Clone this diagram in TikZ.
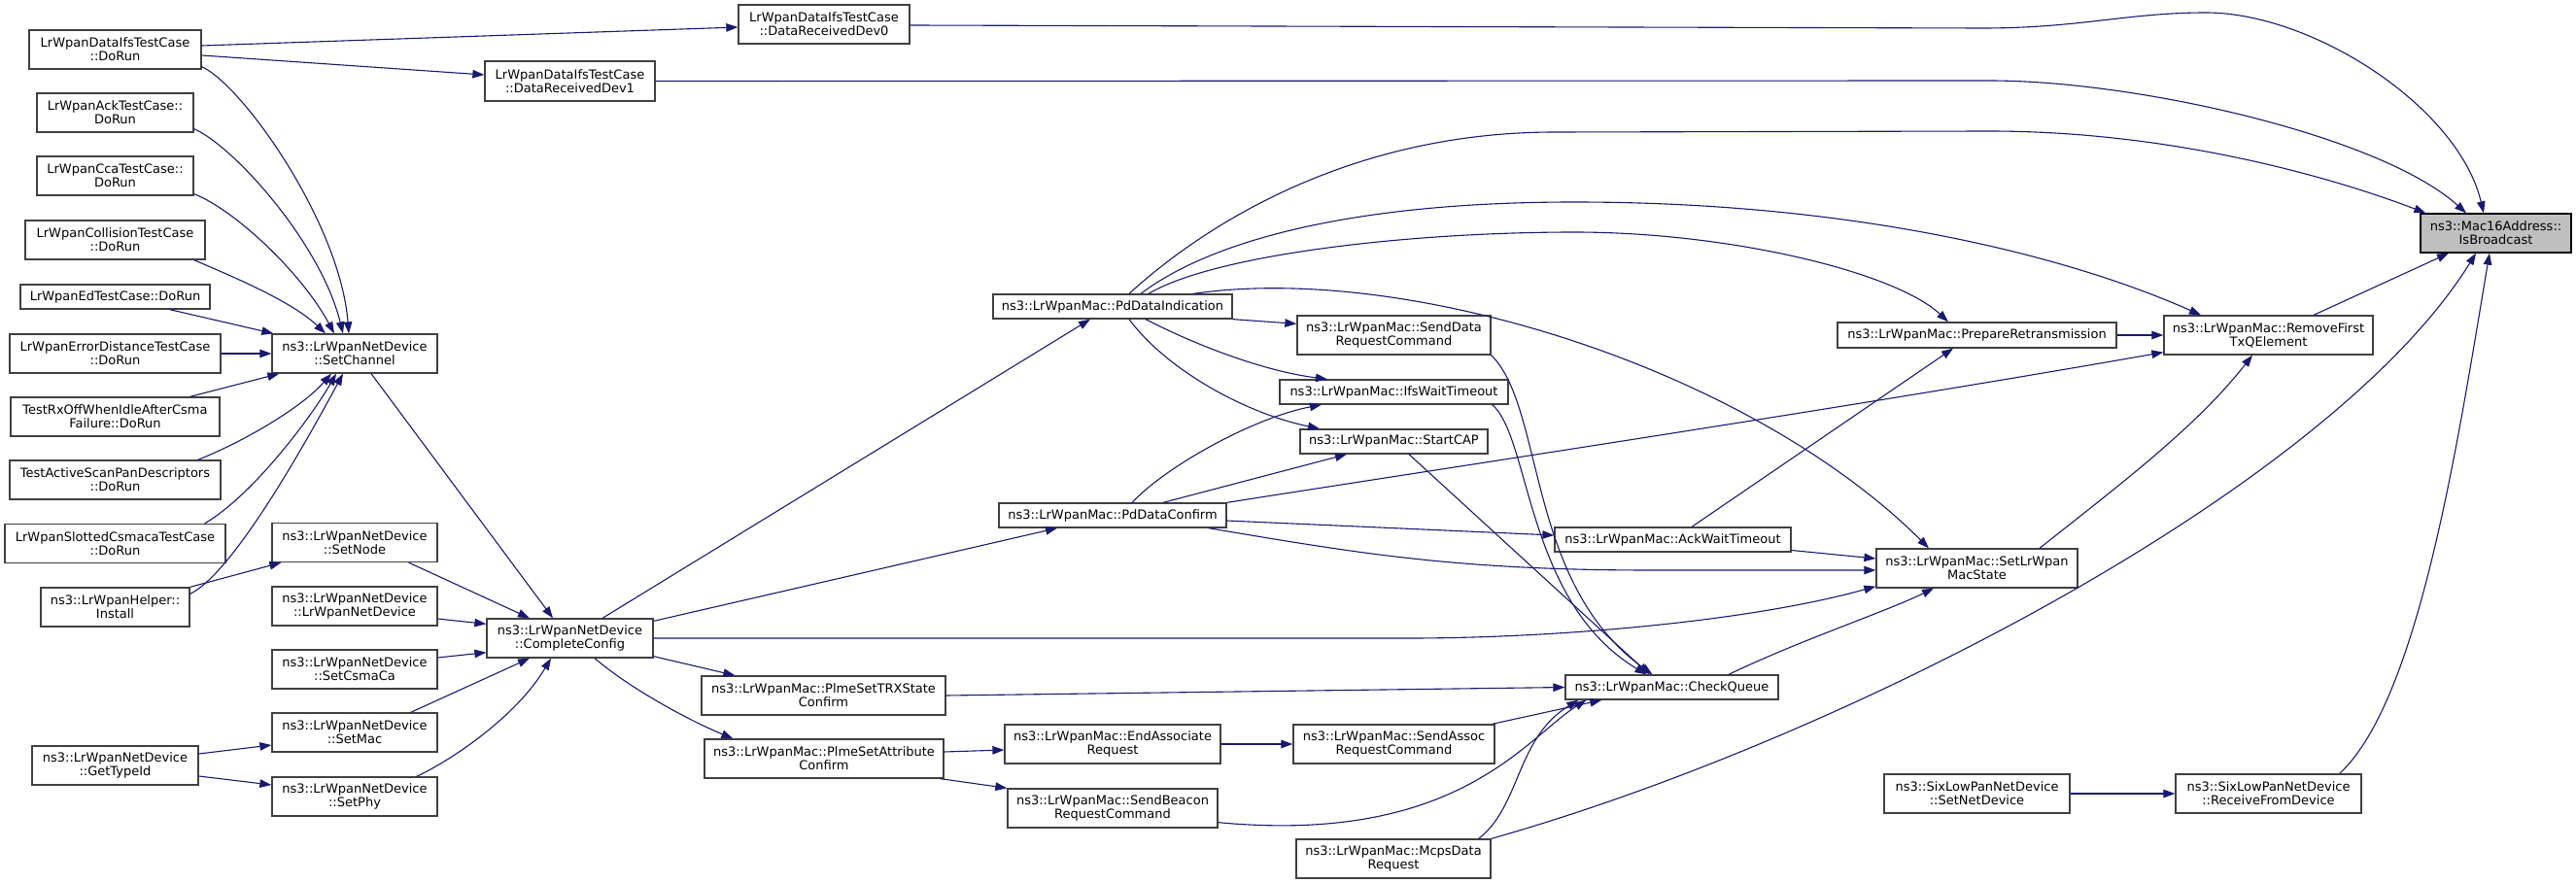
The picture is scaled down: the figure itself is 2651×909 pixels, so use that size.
\documentclass[tikz,border=0pt]{standalone}
\usepackage{fontspec}
\setmainfont{DejaVu Sans}
\usetikzlibrary{arrows.meta}
\definecolor{edgec}{HTML}{191970}
\definecolor{boxc}{HTML}{404040}
\definecolor{rootfill}{HTML}{BFBFBF}
\begin{document}
\begin{tikzpicture}[x=1pt,y=-1pt,
  fn/.style={draw=boxc, line width=1.3pt, fill=white, inner sep=0pt, align=center,
    font=\fontsize{13}{14}\selectfont, text=black},
  ed/.style={draw=edgec, line width=1.1pt, -{Triangle[length=12pt,width=8.5pt]}}
]
\useasboundingbox (0,0) rectangle (2651,909);
% column 1
\node[fn, minimum width=177pt, minimum height=40pt] (dorun) at (118.5,51) {LrWpanDataIfsTestCase\\::DoRun};
\node[fn, minimum width=161pt, minimum height=40pt] (ack) at (118.5,116) {LrWpanAckTestCase::\\DoRun};
\node[fn, minimum width=161pt, minimum height=40pt] (cca) at (118.5,181) {LrWpanCcaTestCase::\\DoRun};
\node[fn, minimum width=185pt, minimum height=40pt] (coll) at (118.5,247) {LrWpanCollisionTestCase\\::DoRun};
\node[fn, minimum width=195pt, minimum height=25pt] (ed) at (118.5,305.5) {LrWpanEdTestCase::DoRun};
\node[fn, minimum width=217pt, minimum height=40pt] (errd) at (118.5,364) {LrWpanErrorDistanceTestCase\\::DoRun};
\node[fn, minimum width=215pt, minimum height=40pt] (rxoff) at (118.5,429) {TestRxOffWhenIdleAfterCsma\\Failure::DoRun};
\node[fn, minimum width=217pt, minimum height=40pt] (scan) at (118.5,494) {TestActiveScanPanDescriptors\\::DoRun};
\node[fn, minimum width=227pt, minimum height=40pt] (slot) at (118.5,559.5) {LrWpanSlottedCsmacaTestCase\\::DoRun};
\node[fn, minimum width=153pt, minimum height=40pt] (install) at (118.5,625) {ns3::LrWpanHelper::\\Install};
\node[fn, minimum width=171pt, minimum height=40pt] (gettype) at (118.5,788) {ns3::LrWpanNetDevice\\::GetTypeId};
% column 2
\node[fn, minimum width=170pt, minimum height=40pt] (setch) at (365,364) {ns3::LrWpanNetDevice\\::SetChannel};
\node[fn, minimum width=170pt, minimum height=40pt] (setnode) at (365,558.5) {ns3::LrWpanNetDevice\\::SetNode};
\node[fn, minimum width=170pt, minimum height=40pt] (ctor) at (365,624) {ns3::LrWpanNetDevice\\::LrWpanNetDevice};
\node[fn, minimum width=170pt, minimum height=40pt] (csma) at (365,689) {ns3::LrWpanNetDevice\\::SetCsmaCa};
\node[fn, minimum width=170pt, minimum height=40pt] (setmac) at (365,754) {ns3::LrWpanNetDevice\\::SetMac};
\node[fn, minimum width=170pt, minimum height=40pt] (setphy) at (365,820) {ns3::LrWpanNetDevice\\::SetPhy};
% column 3
\node[fn, minimum width=171pt, minimum height=40pt] (cc) at (586.5,657) {ns3::LrWpanNetDevice\\::CompleteConfig};
\node[fn, minimum width=175pt, minimum height=41pt] (dev1) at (586.5,83.5) {LrWpanDataIfsTestCase\\::DataReceivedDev1};
% column 4
\node[fn, minimum width=176pt, minimum height=40pt] (dev0) at (848,25) {LrWpanDataIfsTestCase\\::DataReceivedDev0};
\node[fn, minimum width=251pt, minimum height=40pt] (trx) at (847.5,716) {ns3::LrWpanMac::PlmeSetTRXState\\Confirm};
\node[fn, minimum width=246pt, minimum height=40pt] (attr) at (848,781) {ns3::LrWpanMac::PlmeSetAttribute\\Confirm};
% column 5
\node[fn, minimum width=246pt, minimum height=25pt] (pdind) at (1145,315.5) {ns3::LrWpanMac::PdDataIndication};
\node[fn, minimum width=234pt, minimum height=25pt] (pdconf) at (1145,530.5) {ns3::LrWpanMac::PdDataConfirm};
\node[fn, minimum width=222pt, minimum height=40pt] (endassoc) at (1145,766) {ns3::LrWpanMac::EndAssociate\\Request};
\node[fn, minimum width=216pt, minimum height=40pt] (beacon) at (1145,832) {ns3::LrWpanMac::SendBeacon\\RequestCommand};
% column 6
\node[fn, minimum width=199pt, minimum height=40pt] (senddata) at (1434.5,345) {ns3::LrWpanMac::SendData\\RequestCommand};
\node[fn, minimum width=235pt, minimum height=25pt] (ifs) at (1434.5,403.5) {ns3::LrWpanMac::IfsWaitTimeout};
\node[fn, minimum width=193pt, minimum height=25pt] (startcap) at (1434.5,454.5) {ns3::LrWpanMac::StartCAP};
\node[fn, minimum width=207pt, minimum height=40pt] (sendassoc) at (1434.5,766) {ns3::LrWpanMac::SendAssoc\\RequestCommand};
\node[fn, minimum width=200pt, minimum height=40pt] (mcps) at (1434,884) {ns3::LrWpanMac::McpsData\\Request};
% column 7
\node[fn, minimum width=243pt, minimum height=25pt] (ackwait) at (1721.5,555.5) {ns3::LrWpanMac::AckWaitTimeout};
\node[fn, minimum width=219pt, minimum height=25pt] (checkq) at (1720.5,707.5) {ns3::LrWpanMac::CheckQueue};
% column 8
\node[fn, minimum width=287pt, minimum height=26pt] (prep) at (2034.5,345) {ns3::LrWpanMac::PrepareRetransmission};
\node[fn, minimum width=207pt, minimum height=40pt] (setstate) at (2034.5,585) {ns3::LrWpanMac::SetLrWpan\\MacState};
\node[fn, minimum width=191pt, minimum height=40pt] (setnet) at (2034.5,817) {ns3::SixLowPanNetDevice\\::SetNetDevice};
% column 9
\node[fn, minimum width=215pt, minimum height=40pt] (remove) at (2334.5,345) {ns3::LrWpanMac::RemoveFirst\\TxQElement};
\node[fn, minimum width=191pt, minimum height=40pt] (recv) at (2334.5,817) {ns3::SixLowPanNetDevice\\::ReceiveFromDevice};
% root
\node[fn, draw=black, fill=rootfill, minimum width=155pt, minimum height=40pt] (isb) at (2568.5,240) {ns3::Mac16Address::\\IsBroadcast};

% edges
\draw[ed] ([yshift=4pt]dorun.east) -- ([yshift=-3pt]dev0.west);
\draw[ed] ([yshift=-6pt]dorun.east) -- ([yshift=6.5pt]dev1.west);
\draw[ed] ([yshift=3pt]dorun.south east) .. controls (250,88) and (350,230) .. ([xshift=-6pt]setch.north);
\draw[ed] ([yshift=4pt]ack.south east) .. controls (240,150) and (330,250) .. ([xshift=-12pt]setch.north);
\draw[ed] ([yshift=2pt]cca.south east) .. controls (240,215) and (310,280) .. ([xshift=-21pt]setch.north);
\draw[ed] ([xshift=-12pt]coll.south east) .. controls (240,285) and (300,310) .. ([xshift=-30pt]setch.north);
\draw[ed] ([xshift=-42pt]ed.south east) -- ([xshift=2pt]setch.north west);
\draw[ed] (errd.east) -- (setch.west);
\draw[ed] ([xshift=-31pt]rxoff.north east) -- ([xshift=8pt]setch.south west);
\draw[ed] ([xshift=-24pt]scan.north east) .. controls (250,455) and (310,420) .. ([xshift=-24pt]setch.south);
\draw[ed] ([xshift=-22pt]slot.north east) .. controls (260,510) and (320,430) .. ([xshift=-19pt]setch.south);
\draw[ed] ([yshift=-7pt]install.north east) .. controls (240,590) and (315,455) .. ([xshift=-12pt]setch.south);
\draw[ed] (install.north east) -- ([xshift=10pt]setnode.south west);
\draw[ed] ([xshift=17pt]setch.south) -- ([xshift=-17.5pt]cc.north);
\draw[ed] ([xshift=-30pt]setnode.south east) -- ([xshift=-41.5pt]cc.north);
\draw[ed] ([yshift=-13pt]ctor.east) -- ([yshift=-6pt]cc.north west);
\draw[ed] ([yshift=12pt]csma.east) -- ([yshift=6pt]cc.south west);
\draw[ed] ([xshift=-28pt]setmac.north east) -- ([xshift=-41.5pt]cc.south);
\draw[ed] ([xshift=-22pt]setphy.north east) .. controls (460,785) and (530,740) .. ([xshift=-19.5pt]cc.south);
\draw[ed] ([yshift=12pt]gettype.east) -- ([yshift=-13pt]setmac.west);
\draw[ed] ([yshift=-11pt]gettype.east) -- ([yshift=12pt]setphy.west);
\draw[ed] ([yshift=-1pt]dev0.east) -- (2040,29) .. controls (2140,29) and (2190,13) .. (2270,13) .. controls (2380,13) and (2530,110) .. ([xshift=-12.5pt]isb.north);
\draw[ed] (dev1.east) -- (2047,83) .. controls (2200,83) and (2450,140) .. ([xshift=-30.5pt]isb.north);
\draw[ed] ([xshift=17pt]pdind.north) .. controls (1230,240) and (1380,136) .. (1600,136) -- (2047,135) .. controls (2250,135) and (2420,190) .. ([xshift=6pt]isb.north west);
\draw[ed] ([xshift=29pt]pdind.north) .. controls (1250,245) and (1400,208) .. (1620,208) .. controls (1900,208) and (2120,260) .. ([xshift=-69.5pt]remove.north);
\draw[ed] ([xshift=37pt]pdind.north) .. controls (1250,262) and (1450,239) .. (1620,239) .. controls (1780,239) and (1950,280) .. ([xshift=-29.5pt]prep.north);
\draw[ed] ([xshift=83pt]pdind.north) .. controls (1450,270) and (1800,380) .. ([xshift=-49.5pt]setstate.north);
\draw[ed] ([xshift=33.5pt]cc.north) -- ([xshift=-23pt]pdind.south);
\draw[ed] ([yshift=-3pt]cc.north east) -- ([xshift=-57pt]pdconf.south);
\draw[ed] (cc.east) -- (1450,657) .. controls (1600,657) and (1800,640) .. ([yshift=2pt]setstate.south west);
\draw[ed] ([yshift=2pt]cc.south east) -- ([xshift=35pt]trx.north west);
\draw[ed] ([xshift=25.5pt]cc.south) .. controls (650,710) and (710,742) .. ([xshift=30pt]attr.north west);
\draw[ed] (pdind.south east) -- ([yshift=-9pt]senddata.north west);
\draw[ed] ([xshift=34pt]pdind.south) .. controls (1230,355) and (1300,382) .. ([xshift=-68.5pt]ifs.north);
\draw[ed] ([xshift=17pt]pdind.south) .. controls (1200,380) and (1280,425) .. ([xshift=-76.5pt]startcap.north);
\draw[ed] ([xshift=20pt]pdconf.north) .. controls (1200,480) and (1290,430) .. ([xshift=-74.5pt]ifs.south);
\draw[ed] ([xshift=52pt]pdconf.north) -- ([xshift=-48.5pt]startcap.south);
\draw[ed] (pdconf.north east) .. controls (1500,480) and (1900,420) .. ([yshift=3pt]remove.south west);
\draw[ed] ([yshift=-5.5pt]pdconf.east) -- ([yshift=4.5pt]ackwait.west);
\draw[ed] ([xshift=-19pt]pdconf.south east) .. controls (1400,570) and (1500,587) .. (1700,587) -- ([yshift=-2pt]setstate.west);
\draw[ed] (senddata.south east) .. controls (1590,420) and (1570,600) .. ([xshift=-20pt]checkq.north);
\draw[ed] ([xshift=-17pt]ifs.south east) .. controls (1575,450) and (1570,620) .. ([xshift=-26pt]checkq.north);
\draw[ed] ([xshift=15.5pt]startcap.south) -- ([xshift=-23pt]checkq.north);
\draw[ed] (trx.east) -- (checkq.west);
\draw[ed] ([yshift=7pt]attr.east) -- ([yshift=-6pt]endassoc.west);
\draw[ed] ([xshift=-4pt]attr.south east) -- (beacon.north west);
\draw[ed] (endassoc.east) -- (sendassoc.west);
\draw[ed] ([xshift=-3pt]sendassoc.north east) -- ([xshift=38pt]checkq.south west);
\draw[ed] ([yshift=6pt]beacon.south east) .. controls (1500,870) and (1570,760) .. ([xshift=22pt]checkq.south west);
\draw[ed] ([xshift=-13pt]mcps.north east) .. controls (1565,830) and (1560,760) .. ([xshift=14pt]checkq.south west);
\draw[ed] (mcps.north east) .. controls (1900,760) and (2400,500) .. ([xshift=-20.5pt]isb.south);
\draw[ed] ([xshift=58.5pt]checkq.north) .. controls (1850,660) and (1940,630) .. ([xshift=-44.5pt]setstate.south);
\draw[ed] ([yshift=-11pt]ackwait.east) -- ([yshift=10pt]setstate.west);
\draw[ed] ([xshift=19.5pt]ackwait.north) -- ([xshift=-24.5pt]prep.south);
\draw[ed] (prep.east) -- (remove.west);
\draw[ed] ([xshift=64.5pt]setstate.north) .. controls (2180,500) and (2260,440) .. ([xshift=-16.5pt]remove.south);
\draw[ed] ([xshift=46.5pt]remove.north) -- ([xshift=-48.5pt]isb.south);
\draw[ed] ([xshift=-23pt]recv.north east) .. controls (2490,720) and (2530,450) .. ([xshift=-6.5pt]isb.south);
\draw[ed] (setnet.east) -- (recv.west);
\end{tikzpicture}
\end{document}
